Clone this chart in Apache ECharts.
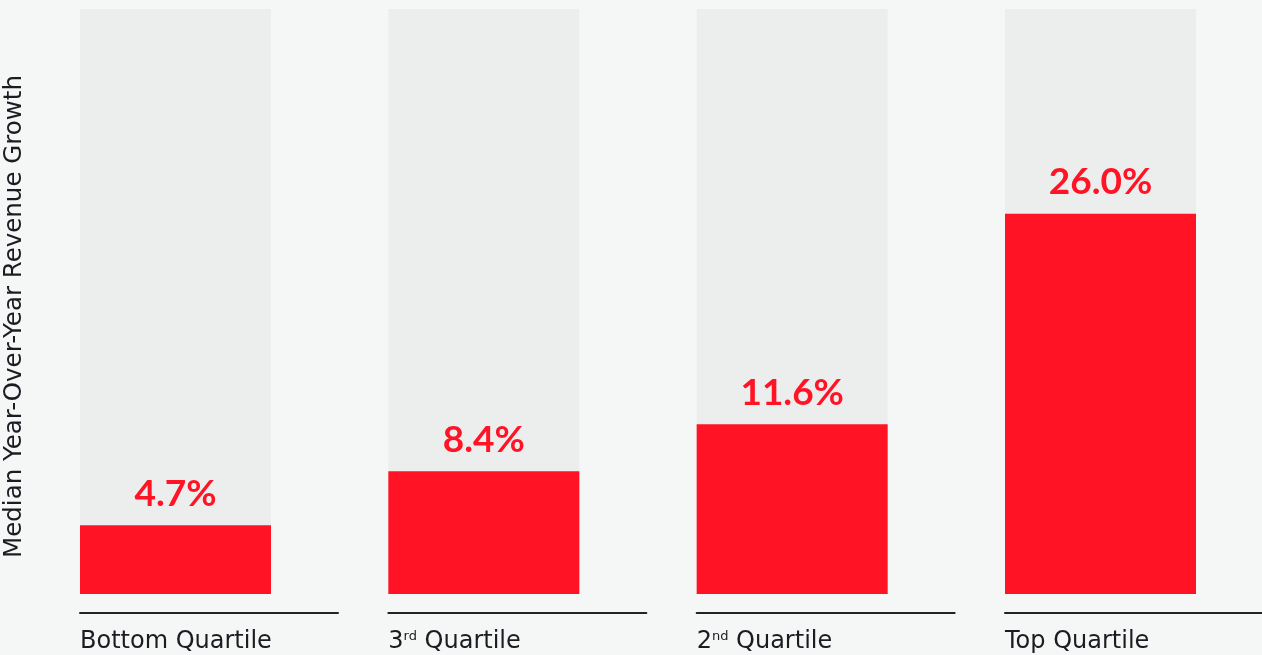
<!DOCTYPE html>
<html>
<head>
<meta charset="utf-8">
<script src="https://cdn.jsdelivr.net/npm/echarts@6/dist/echarts.min.js"></script>
<style>
    html, body { margin: 0; padding: 0; background: #f5f7f6; }
    #chart { width: 1262px; height: 655px; }
</style>
</head>
<body>
<div id="chart"></div>
<script>
const categories = ['Bottom Quartile', '3rd Quartile', '2nd Quartile', 'Top Quartile'];
// rich-text versions of the category names (ordinal suffix as superscript)
const categoryLabels = [
    '{a|Bottom Quartile}',
    '{a|3}{sup|rd}{a| Quartile}',
    '{a|2}{sup|nd}{a| Quartile}',
    '{a|Top Quartile}',
];
const growth = [4.7, 8.4, 11.6, 26.0];
const axisMax = 40;
const yAxisName = 'Median Year-Over-Year Revenue Growth';

const red = '#ff1325';
const ink = '#1b1c21';
const textFont = 'DejaVu Sans';
const numberFont = 'Lato';

const chart = echarts.init(document.getElementById('chart'));
chart.setOption({
    backgroundColor: '#f5f7f6',
    animation: false,
    grid: [
        {
            left: 21.33,
            right: 7.33,
            top: 9,
            bottom: 61,
            outerBoundsMode: 'none',
        },
        {
            // only carries the broken underline beneath each category
            left: 80,
            right: 0,
            top: 600,
            height: 13,
            outerBoundsMode: 'none',
        },
    ],
    xAxis: [
        {
            type: 'category',
            data: categories,
            axisLine: {show: false},
            axisTick: {show: false},
            axisLabel: {
                margin: 36,
                width: 191,
                align: 'center',
                formatter: (v, i) => categoryLabels[i],
                rich: {
                    a: {
                        align: 'left',
                        fontFamily: textFont,
                        fontSize: 24,
                        color: ink,
                    },
                    sup: {
                        align: 'left',
                        fontFamily: textFont,
                        fontSize: 13,
                        color: ink,
                        verticalAlign: 'top',
                        padding: [0, 0, 8, 0],
                    },
                },
            },
        },
        {
            gridIndex: 1,
            type: 'category',
            data: categories,
            axisLabel: {show: false},
            axisTick: {show: false},
            axisLine: {
                show: true,
                lineStyle: {
                    color: '#222328',
                    width: 2,
                    type: [258, 50.33],
                },
            },
        },
    ],
    yAxis: [
        {
            type: 'value',
            min: 0,
            max: axisMax,
            name: yAxisName,
            nameLocation: 'middle',
            nameRotate: 90,
            nameGap: -6,
            nameTextStyle: {
                fontFamily: textFont,
                fontSize: 24.5,
                color: ink,
                padding: [0, 30, 0, 0],
            },
            axisLine: {show: false},
            axisTick: {show: false},
            axisLabel: {show: false},
            splitLine: {show: false},
        },
        {
            gridIndex: 1,
            type: 'value',
            show: false,
        },
    ],
    series: [
        {
            type: 'bar',
            data: growth,
            barWidth: 191,
            itemStyle: {color: red},
            showBackground: true,
            backgroundStyle: {color: '#eceeed'},
            label: {
                show: true,
                position: 'top',
                distance: 13,
                formatter: p => p.value.toFixed(1) + '%',
                fontFamily: numberFont,
                fontWeight: 'bold',
                fontSize: 37,
                color: red,
            },
        },
    ],
});
</script>
</body>
</html>
